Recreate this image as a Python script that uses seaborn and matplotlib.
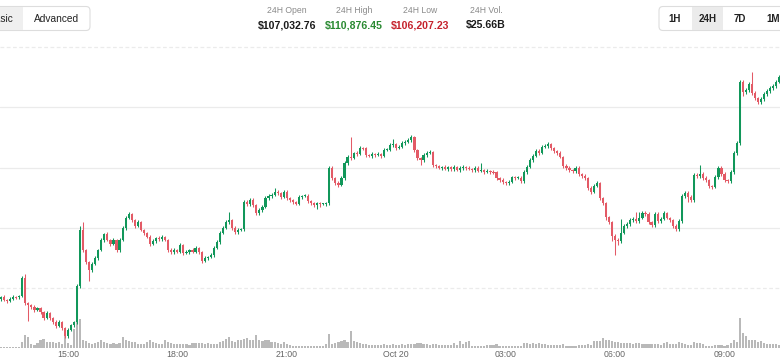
import numpy as np
import pandas as pd
import matplotlib
matplotlib.use("Agg")
import matplotlib.pyplot as plt
from matplotlib.patches import FancyBboxPatch, Rectangle
from matplotlib.transforms import IdentityTransform
import seaborn as sns

# 5-minute BTC-USD candles, Oct 19 13:10 -> Oct 20 10:30
first_open = 106820
closes = [
    106855, 106805, 106788, 106822, 106855, 106850, 106871, 107170, 106755, 106722, 106689, 106639, 106672, 106606, 106507, 106589,
    106507, 106440, 106374, 106440, 106341, 106208, 106308, 106390, 106440, 107037, 107966, 107634, 107435, 107302, 107402, 107501,
    107634, 107800, 107899, 107800, 107733, 107800, 107634, 107800, 107999, 108165, 108231, 108131, 108032, 108098, 107966, 107916,
    107850, 107733, 107783, 107833, 107816, 107850, 107800, 107634, 107601, 107634, 107601, 107717, 107584, 107601, 107634, 107601,
    107667, 107601, 107452, 107501, 107518, 107551, 107667, 107767, 107916, 107999, 108098, 108131, 107999, 107932, 107966, 107982,
    108430, 108397, 108463, 108380, 108247, 108297, 108347, 108496, 108529, 108546, 108596, 108579, 108513, 108596, 108496, 108463,
    108430, 108397, 108513, 108529, 108535, 108446, 108413, 108380, 108413, 108397, 108400, 108413, 108994, 108828, 108745, 108712,
    108828, 109076, 109176, 109159, 109242, 109226, 109325, 109320, 109209, 109193, 109226, 109209, 109226, 109193, 109292, 109295,
    109375, 109391, 109325, 109342, 109408, 109425, 109458, 109508, 109292, 109159, 109126, 109209, 109242, 109259, 109043, 109027,
    108994, 109010, 108977, 109010, 108977, 109010, 108960, 108994, 109010, 108994, 108977, 108960, 108994, 108944, 108960, 108927,
    108944, 108927, 108925, 108828, 108795, 108761, 108745, 108761, 108844, 108828, 108830, 108778, 108927, 109010, 109126, 109193,
    109275, 109242, 109342, 109358, 109391, 109325, 109275, 109242, 109176, 109027, 108994, 108960, 108944, 108994, 108894, 108861,
    108828, 108662, 108596, 108695, 108745, 108496, 108413, 108181, 108098, 107866, 107800, 107783, 107916, 108032, 108065, 108131,
    108148, 108115, 108165, 108247, 108231, 108098, 108048, 108231, 108115, 108148, 108247, 108165, 108131, 108032, 107982, 108115,
    108529, 108579, 108513, 108463, 108877, 108861, 108894, 108828, 108795, 108695, 108679, 108844, 108994, 108894, 108795, 108778,
    108927, 109242, 109408, 110419, 110254, 110287, 110386, 110237, 110154, 110088, 110138, 110220, 110270, 110320, 110353, 110419,
    110502,
]
# wick length above / below the body, USD
wick_up = [
    20, 35, 15, 25, 30, 10, 25, 40, 60, 20, 15, 30, 20, 25, 15, 35,
    20, 15, 25, 30, 10, 20, 35, 25, 15, 30, 60, 140, 20, 15, 25, 30,
    20, 35, 25, 30, 15, 25, 20, 30, 25, 40, 35, 20, 15, 30, 25, 20,
    15, 25, 30, 20, 35, 25, 20, 15, 25, 30, 20, 35, 15, 25, 20, 30,
    25, 20, 15, 30, 20, 25, 30, 35, 25, 30, 40, 130, 20, 25, 30, 20,
    40, 30, 35, 25, 20, 30, 25, 35, 30, 25, 65, 30, 20, 35, 25, 20,
    15, 20, 30, 25, 20, 25, 15, 20, 25, 20, 15, 25, 40, 30, 20, 25,
    30, 35, 30, 330, 25, 30, 35, 25, 20, 25, 30, 20, 25, 20, 30, 25,
    35, 80, 25, 30, 35, 30, 25, 40, 20, 15, 25, 30, 35, 25, 20, 25,
    20, 25, 30, 20, 25, 35, 20, 25, 30, 20, 25, 20, 30, 25, 115, 20,
    25, 20, 30, 15, 20, 25, 20, 30, 25, 20, 30, 25, 30, 35, 30, 25,
    35, 30, 25, 40, 30, 20, 25, 20, 30, 20, 25, 30, 20, 35, 25, 20,
    25, 20, 30, 35, 30, 20, 25, 20, 15, 25, 30, 35, 230, 40, 30, 35,
    30, 115, 100, 35, 30, 25, 20, 40, 25, 30, 35, 25, 20, 25, 30, 35,
    40, 35, 30, 25, 30, 35, 150, 30, 25, 20, 25, 35, 40, 30, 25, 20,
    30, 35, 40, 30, 35, 30, 40, 200, 30, 25, 30, 35, 30, 25, 30, 35,
    40,
]
wick_dn = [
    25, 20, 30, 15, 20, 25, 30, 20, 35, 265, 30, 25, 20, 35, 30, 25,
    30, 25, 35, 20, 30, 40, 25, 20, 30, 35, 40, 25, 30, 180, 25, 20,
    25, 20, 30, 25, 35, 20, 30, 25, 20, 30, 25, 35, 30, 20, 25, 30,
    25, 30, 20, 35, 25, 30, 20, 25, 30, 35, 20, 25, 30, 20, 35, 25,
    20, 30, 35, 25, 30, 20, 25, 20, 30, 25, 20, 30, 35, 25, 30, 20,
    25, 35, 30, 40, 35, 25, 30, 20, 25, 30, 20, 25, 35, 20, 30, 25,
    30, 20, 25, 30, 20, 25, 35, 30, 60, 50, 25, 30, 35, 30, 40, 35,
    25, 30, 25, 30, 20, 35, 25, 30, 35, 20, 30, 25, 20, 30, 25, 20,
    25, 30, 35, 20, 25, 30, 20, 25, 30, 40, 80, 25, 30, 20, 35, 30,
    25, 30, 20, 35, 25, 30, 20, 25, 35, 30, 20, 25, 30, 20, 25, 35,
    20, 30, 25, 35, 30, 40, 25, 30, 20, 35, 25, 40, 30, 25, 20, 30,
    25, 30, 20, 25, 30, 35, 25, 30, 20, 35, 30, 25, 40, 30, 25, 30,
    35, 40, 30, 25, 20, 35, 40, 45, 35, 80, 250, 60, 30, 25, 35, 30,
    25, 30, 35, 20, 25, 30, 35, 25, 30, 35, 20, 25, 40, 35, 30, 25,
    30, 35, 80, 40, 25, 30, 35, 30, 40, 35, 30, 25, 30, 35, 40, 30,
    25, 30, 35, 40, 60, 35, 30, 40, 35, 30, 40, 30, 25, 35, 30, 25,
    20,
]
# volume per candle, BTC
volume = [
    25, 25, 25, 25, 25, 25, 25, 150, 325, 275, 100, 75, 125, 200, 225, 150,
    150, 150, 125, 150, 100, 300, 125, 75, 475, 950, 725, 200, 175, 125, 100, 125,
    150, 200, 150, 125, 100, 125, 100, 125, 275, 200, 175, 150, 150, 100, 100, 100,
    150, 200, 150, 125, 100, 100, 200, 150, 125, 100, 100, 100, 100, 100, 75, 125,
    125, 125, 125, 100, 125, 100, 100, 100, 150, 175, 225, 275, 175, 150, 200, 200,
    225, 250, 200, 200, 325, 200, 175, 200, 200, 150, 150, 125, 100, 150, 100, 75,
    50, 50, 50, 50, 50, 50, 50, 50, 50, 50, 50, 100, 350, 100, 125, 150,
    175, 200, 150, 425, 175, 150, 125, 100, 100, 75, 75, 75, 75, 75, 100, 75,
    75, 100, 75, 75, 100, 75, 100, 100, 100, 125, 125, 100, 100, 75, 100, 100,
    75, 75, 75, 75, 75, 125, 75, 175, 100, 150, 175, 50, 50, 50, 50, 50,
    75, 75, 75, 100, 50, 50, 50, 50, 50, 50, 50, 50, 125, 125, 100, 125,
    100, 125, 100, 100, 75, 75, 75, 75, 75, 100, 50, 50, 50, 50, 75, 75,
    75, 100, 75, 175, 175, 175, 250, 200, 200, 175, 150, 150, 125, 125, 125, 125,
    100, 125, 125, 100, 100, 100, 100, 100, 100, 75, 125, 150, 100, 100, 100, 150,
    125, 100, 75, 75, 150, 125, 125, 100, 50, 50, 50, 75, 75, 75, 50, 75,
    125, 200, 150, 750, 375, 300, 200, 200, 200, 150, 175, 125, 100, 100, 100, 100,
    75,
]

stat_labels = ["24H Open", "24H High", "24H Low", "24H Vol."]
stat_values = ["$107,032.76", "$110,876.45", "$106,207.23", "$25.66B"]
range_buttons = ["1H", "24H", "7D", "1M"]

GREEN = "#11975a"
RED = "#e35a66"

times = pd.date_range("2025-10-19 13:10", periods=len(closes), freq="5min")
df = pd.DataFrame({"time": times, "close": closes, "vol": volume})
df["open"] = [first_open] + closes[:-1]
df["high"] = df[["open", "close"]].max(axis=1) + np.array(wick_up)
df["low"] = df[["open", "close"]].min(axis=1) - np.array(wick_dn)
df["pos"] = np.arange(len(df))
rising = df["close"] >= df["open"]
colors = np.where(rising, GREEN, RED)

# keep flat candles visible as a thin body
body = (df["close"] - df["open"]).abs().clip(lower=16)
mid = (df["close"] + df["open"]) / 2
bottom = np.where((df["close"] - df["open"]).abs() < 16, mid - 8, df[["open", "close"]].min(axis=1))

sns.set_theme(style="white")
plt.rcParams["font.family"] = ["Liberation Sans", "DejaVu Sans"]

W, H = 780, 357
fig = plt.figure(figsize=(W / 100, H / 100), dpi=100)
ax = fig.add_axes([0, 9 / H, 1, 308 / H])
ax2 = ax.twinx()

# volume underneath
sns.barplot(x=df["pos"], y=df["vol"], native_scale=True, width=0.72, color="#b9b9b9",
            saturation=1, errorbar=None, linewidth=0, ax=ax2)
ax2.set_ylim(0, 7700)
ax2.set_yticks([])
ax2.set_ylabel("")
ax2.xaxis.set_visible(False)

ax.set_zorder(ax2.get_zorder() + 1)
ax.patch.set_visible(False)

for level, ls in zip([107000, 108000, 109000, 110000, 111000], [(0, (3, 2)), "-", "-", "-", (0, (3, 2))]):
    ax.axhline(level, color="#ebebeb", lw=0.9, ls=ls, zorder=0)

ax.vlines(df["pos"], df["low"], df["high"], colors=colors, lw=0.75, zorder=2)
ax.bar(df["pos"], body, bottom=bottom, width=0.7, color=colors, linewidth=0, zorder=3)

ax.set_xlim(-0.33, 256.25)
ax.set_ylim(106009, 111116)
ax2.set_xlim(-0.33, 256.25)
ax.set_yticks([])

tick_pos = [i for i, t in enumerate(times) if t.minute == 0 and t.hour % 3 == 0]
tick_lab = ["Oct 20" if times[i].hour == 0 else times[i].strftime("%H:%M") for i in tick_pos]
ax.set_xticks(tick_pos, tick_lab)
ax.tick_params(axis="x", length=0, pad=1.6, labelsize=6.3, labelcolor="#666666")
ax.set_xlabel("")
for a in (ax, ax2):
    for s in a.spines.values():
        s.set_visible(False)

# header, drawn in pixel coordinates
px = IdentityTransform()
def hy(y):
    return H - y

fig.add_artist(FancyBboxPatch((-40, hy(30.5)), 130, 24, boxstyle="round,pad=0,rounding_size=4",
                              fc="white", ec="#dddddd", lw=0.8, transform=px))
fig.add_artist(Rectangle((-40, hy(30)), 63, 23, fc="#efefef", ec="none", transform=px))
fig.text(13, hy(18.5), "Basic", ha="right", va="center", fontsize=7.3, color="#222222", transform=px)
fig.text(57, hy(18.5), "Advanced", ha="center", va="center", fontsize=7.3, color="#222222", transform=px)

stat_x = [287, 354, 420, 486]
value_colors = ["#1a1a1a", "#2a8a32", "#c5232d", "#1a1a1a"]
for x, lab, val, c in zip(stat_x, stat_labels, stat_values, value_colors):
    fig.text(x, hy(10.5), lab, ha="center", va="center", fontsize=6.2, color="#8a8a8a", transform=px)
    fig.text(x, hy(25), val, ha="center", va="center", fontsize=7.6, fontweight="bold", color=c, transform=px)

fig.add_artist(FancyBboxPatch((659, hy(30.5)), 140, 24, boxstyle="round,pad=0,rounding_size=4",
                              fc="white", ec="#dddddd", lw=0.8, transform=px))
fig.add_artist(Rectangle((692, hy(30)), 31, 23, fc="#ebebeb", ec="none", transform=px))
for x, lab in zip([675, 708, 740, 773], range_buttons):
    fig.text(x, hy(18.5), lab, ha="center", va="center", fontsize=7.0, fontweight="bold",
             color="#222222", transform=px)

fig.savefig("out.png", dpi=100)
